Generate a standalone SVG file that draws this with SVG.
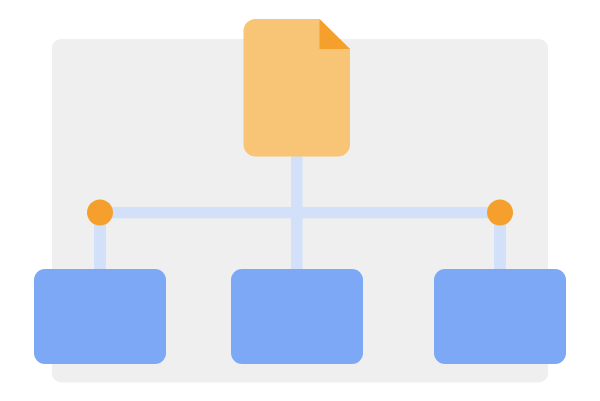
<svg xmlns="http://www.w3.org/2000/svg" width="600" height="401" viewBox="0 0 600 401">
  <style>
    .link { fill: #d2e0fa; }
    .box { fill: #7ca8f5; }
    .dot { fill: #f5a02c; }
  </style>
  <rect width="600" height="401" fill="#ffffff"/>
  <rect id="panel" x="52" y="39" width="496" height="343.5" rx="9" fill="#efefef"/>
  <g id="connectors">
    <rect class="link" x="291" y="150" width="11.5" height="125"/>
    <rect class="link" x="100" y="207" width="400" height="11.3"/>
    <rect class="link" x="94" y="212" width="12" height="62"/>
    <rect class="link" x="494" y="212" width="12" height="62"/>
  </g>
  <g id="document">
    <path d="M255.500 19H319.500L350 49V144.500A12 12 0 0 1 338 156.500H255.500A12 12 0 0 1 243.500 144.500V31A12 12 0 0 1 255.500 19Z" fill="#f7c575"/>
    <path d="M319.500 19L350 49H319.500Z" fill="#f5a02c"/>
  </g>
  <g id="dot-left"><circle class="dot" cx="100" cy="212.500" r="13"/></g>
  <g id="dot-right"><circle class="dot" cx="500" cy="212.500" r="13"/></g>
  <g id="box-left"><rect class="box" x="34" y="269" width="132" height="95" rx="11"/></g>
  <g id="box-center"><rect class="box" x="231" y="269" width="132" height="95" rx="11"/></g>
  <g id="box-right"><rect class="box" x="434" y="269" width="132" height="95" rx="11"/></g>
</svg>
